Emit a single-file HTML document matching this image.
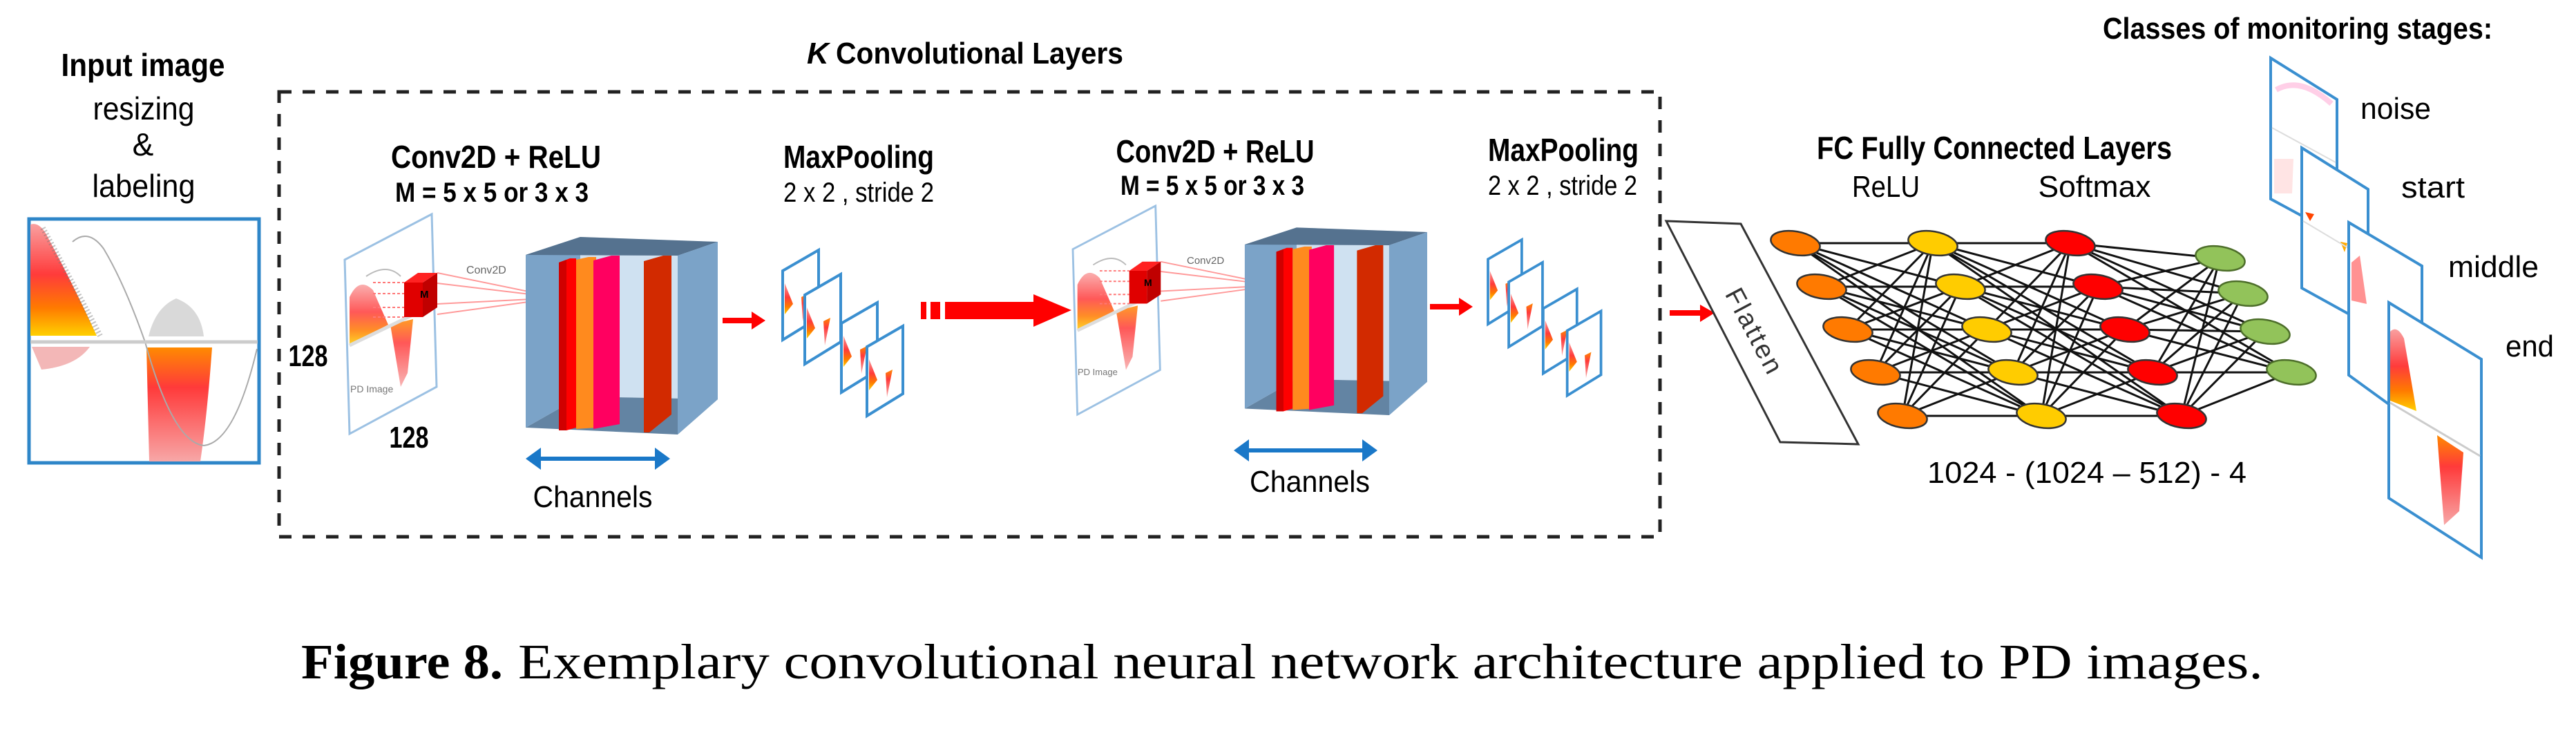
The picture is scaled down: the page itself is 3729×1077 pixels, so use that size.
<!DOCTYPE html>
<html><head><meta charset="utf-8"><style>
html,body{margin:0;padding:0;background:#fff;}
svg{display:block;}
.c{font-family:"Liberation Sans",sans-serif;}
</style></head><body>
<svg width="3729" height="1077" viewBox="0 0 3729 1077" xmlns="http://www.w3.org/2000/svg">
<defs>
<linearGradient id="gTop" x1="0" y1="0" x2="0" y2="1">
<stop offset="0" stop-color="#f9a0a0"/><stop offset="0.45" stop-color="#ff3b3b"/><stop offset="0.75" stop-color="#ff7a00"/><stop offset="1" stop-color="#ffd000"/></linearGradient>
<linearGradient id="gBot" x1="0" y1="0" x2="0" y2="1">
<stop offset="0" stop-color="#ff8a00"/><stop offset="0.35" stop-color="#ff3a3a"/><stop offset="1" stop-color="#f7a7a7"/></linearGradient>
<g id="conv">
<polygon points="499,376 625,310 632,560 506,628" fill="#fff" stroke="#9cc1e3" stroke-width="3"/>
<path d="M506,430 Q520,400 540,420 L562,470 L506,500 Z" fill="url(#gTop)" opacity="0.85"/>
<path d="M565,470 L598,462 L590,540 L580,560 Z" fill="url(#gBot)" opacity="0.85"/>
<line x1="506" y1="500" x2="620" y2="445" stroke="#ddd" stroke-width="5"/>
<path d="M530,400 Q560,380 580,400" fill="none" stroke="#bbb" stroke-width="2"/>
<g stroke="#f77" stroke-width="2" stroke-dasharray="4,3"><line x1="540" y1="409" x2="585" y2="409"/><line x1="540" y1="425" x2="585" y2="425"/><line x1="540" y1="445" x2="585" y2="445"/><line x1="540" y1="459" x2="585" y2="459"/></g>
<g stroke="#f99" stroke-width="2"><line x1="633" y1="395" x2="809" y2="431"/><line x1="633" y1="410" x2="809" y2="431"/><line x1="633" y1="440" x2="809" y2="431"/><line x1="633" y1="455" x2="809" y2="431"/></g>
<polygon points="585,409 612,409 612,459 585,459" fill="#e00000"/>
<polygon points="612,409 633,395 633,445 612,459" fill="#c00000"/>
<polygon points="585,409 605,395 633,395 612,409" fill="#f22"/>
<polygon points="840,343 1039,350 1039,578 840,574" fill="#cfe1f1"/>
<polygon points="761,619 981,629 1039,578 840,574" fill="#6384a3"/>
<polygon points="761,369 840,343 840,574 761,619" fill="#7ba3c8"/>
<polygon points="761,369 840,343 1039,350 981,370" fill="#55728f"/>
<polygon points="981,370 1039,350 1039,578 981,629" fill="#7ba3c8"/>
<polygon points="809,380 825,374 834,374 834,619 820,623 809,623" fill="#ff0000"/>
<polygon points="809,380 820,376 820,623 809,623" fill="#d00000"/>
<polygon points="834,376 852,372 863,372 863,619 834,621" fill="#ff8a1e"/>
<polygon points="859,377 885,370 897,370 897,614 859,621" fill="#ff0060"/>
<polygon points="932,378 960,370 972,370 972,600 940,626 932,626" fill="#d22a00"/>
</g>
<g id="pool">
<polygon points="1133,392 1185,362 1185,460 1133,492" fill="#fff" stroke="#3a8fd0" stroke-width="4"/>
<path d="M1136,410 L1148,440 L1136,455 Z" fill="url(#gTop)"/>
<path d="M1160,430 L1170,425 L1162,465 Z" fill="url(#gBot)"/>
</g>
</defs>

<text x="207" y="110" class="c" font-size="46" font-weight="bold" text-anchor="middle" textLength="237" lengthAdjust="spacingAndGlyphs">Input image</text>
<text x="208" y="173" class="c" font-size="46" text-anchor="middle" textLength="147" lengthAdjust="spacingAndGlyphs">resizing</text>
<text x="207" y="225" class="c" font-size="46" text-anchor="middle">&amp;</text>
<text x="208" y="285" class="c" font-size="46" text-anchor="middle" textLength="149" lengthAdjust="spacingAndGlyphs">labeling</text>
<rect x="42" y="317" width="333" height="353" fill="#fff" stroke="#2e86c8" stroke-width="5"/>
<path d="M44,325 Q58,320 70,345 Q110,420 140,486 L44,486 Z" fill="url(#gTop)"/>
<path d="M62,330 Q100,400 145,486" fill="none" stroke="#777" stroke-width="8" opacity="0.45" stroke-dasharray="2,3"/>
<path d="M215,487 Q225,445 255,432 Q290,445 295,487 Z" fill="#aaa" opacity="0.45"/>
<path d="M46,502 L130,502 Q110,530 60,535 Z" fill="#e99" opacity="0.7"/>
<path d="M212,503 L307,503 Q300,600 290,668 L216,668 Z" fill="url(#gBot)"/>
<path d="M105,350 Q128,330 150,360 Q180,410 210,495 Q250,640 295,645 Q340,640 372,505" fill="none" stroke="#aaa" stroke-width="2"/>
<line x1="44" y1="495" x2="373" y2="495" stroke="#ccc" stroke-width="5"/>

<text x="1168" y="92" class="c" font-size="44" font-weight="bold" font-style="italic">K</text>
<text x="1210" y="92" class="c" font-size="44" font-weight="bold" textLength="416" lengthAdjust="spacingAndGlyphs">Convolutional Layers</text>
<rect x="404" y="133" width="1999" height="644" fill="none" stroke="#222" stroke-width="5" stroke-dasharray="18,16"/>

<text x="718" y="243" class="c" font-size="46" font-weight="bold" text-anchor="middle" textLength="304" lengthAdjust="spacingAndGlyphs">Conv2D + ReLU</text>
<text x="712" y="292" class="c" font-size="40" font-weight="bold" text-anchor="middle" textLength="280" lengthAdjust="spacingAndGlyphs">M = 5 x 5 or 3 x 3</text>
<use href="#conv"/>
<text x="675" y="396" class="c" font-size="16" fill="#666">Conv2D</text>
<text x="608" y="431" class="c" font-size="15" font-weight="bold">M</text>
<text x="507" y="568" class="c" font-size="14" fill="#777">PD Image</text>
<text x="446" y="530" class="c" font-size="44" font-weight="bold" text-anchor="middle" textLength="57" lengthAdjust="spacingAndGlyphs">128</text>
<text x="592" y="648" class="c" font-size="44" font-weight="bold" text-anchor="middle" textLength="57" lengthAdjust="spacingAndGlyphs">128</text>
<line x1="775" y1="664" x2="955" y2="664" stroke="#1a78c8" stroke-width="6"/>
<polygon points="761,664 783,648 783,680" fill="#1a78c8"/><polygon points="970,664 948,648 948,680" fill="#1a78c8"/>
<text x="858" y="734" class="c" font-size="44" text-anchor="middle" textLength="173" lengthAdjust="spacingAndGlyphs">Channels</text>
<line x1="1046" y1="464" x2="1090" y2="464" stroke="#f00" stroke-width="8"/><polygon points="1108,464 1088,451 1088,477" fill="#f00"/>

<text x="1243" y="243" class="c" font-size="46" font-weight="bold" text-anchor="middle" textLength="218" lengthAdjust="spacingAndGlyphs">MaxPooling</text>
<text x="1243" y="292" class="c" font-size="40" text-anchor="middle" textLength="218" lengthAdjust="spacingAndGlyphs">2 x 2 , stride 2</text>
<use href="#pool"/>
<use href="#pool" transform="translate(32,35)"/>
<use href="#pool" transform="translate(85,76)"/>
<use href="#pool" transform="translate(122,110)"/>

<rect x="1333" y="437" width="8" height="25" fill="#f00"/><rect x="1347" y="437" width="14" height="25" fill="#f00"/>
<rect x="1368" y="437" width="132" height="25" fill="#f00"/><polygon points="1496,426 1551,449 1496,473" fill="#f00"/>

<text x="1759" y="235" class="c" font-size="46" font-weight="bold" text-anchor="middle" textLength="287" lengthAdjust="spacingAndGlyphs">Conv2D + ReLU</text>
<text x="1755" y="282" class="c" font-size="40" font-weight="bold" text-anchor="middle" textLength="266" lengthAdjust="spacingAndGlyphs">M = 5 x 5 or 3 x 3</text>
<use href="#conv" transform="translate(1553,298) scale(0.95) translate(-499,-310)"/>
<text x="1718" y="382" class="c" font-size="15" fill="#666">Conv2D</text>
<text x="1656" y="414" class="c" font-size="14" font-weight="bold">M</text>
<text x="1560" y="543" class="c" font-size="13" fill="#777">PD Image</text>
<line x1="1800" y1="652" x2="1980" y2="652" stroke="#1a78c8" stroke-width="6"/>
<polygon points="1786,652 1808,636 1808,668" fill="#1a78c8"/><polygon points="1994,652 1972,636 1972,668" fill="#1a78c8"/>
<text x="1896" y="712" class="c" font-size="44" text-anchor="middle" textLength="174" lengthAdjust="spacingAndGlyphs">Channels</text>
<line x1="2070" y1="444" x2="2114" y2="444" stroke="#f00" stroke-width="8"/><polygon points="2132,444 2112,431 2112,457" fill="#f00"/>

<text x="2263" y="233" class="c" font-size="46" font-weight="bold" text-anchor="middle" textLength="218" lengthAdjust="spacingAndGlyphs">MaxPooling</text>
<text x="2262" y="282" class="c" font-size="40" text-anchor="middle" textLength="216" lengthAdjust="spacingAndGlyphs">2 x 2 , stride 2</text>
<g transform="translate(2154,347) scale(0.94) translate(-1133,-362)">
<use href="#pool"/>
<use href="#pool" transform="translate(32,35)"/>
<use href="#pool" transform="translate(85,76)"/>
<use href="#pool" transform="translate(122,110)"/>
</g>

<line x1="2417" y1="453" x2="2462" y2="453" stroke="#f00" stroke-width="8"/><polygon points="2482,453 2461,441 2461,466" fill="#f00"/>
<polygon points="2412,320 2520,324 2690,643 2577,640" fill="#fff" stroke="#333" stroke-width="3"/>
<text x="2540" y="480" class="c" font-size="38" text-anchor="middle" transform="rotate(62 2540 480)" dy="13" letter-spacing="3" fill="#333">Flatten</text>

<text x="2887" y="230" class="c" font-size="46" font-weight="bold" text-anchor="middle" textLength="514" lengthAdjust="spacingAndGlyphs">FC Fully Connected Layers</text>
<text x="2730" y="285" class="c" font-size="44" text-anchor="middle" textLength="98" lengthAdjust="spacingAndGlyphs">ReLU</text>
<text x="3032" y="285" class="c" font-size="44" text-anchor="middle" textLength="163" lengthAdjust="spacingAndGlyphs">Softmax</text>
<g stroke="#111" stroke-width="3" fill="none">
<path d="M2599 352L2798 352M2599 352L2838 415M2599 352L2876 477M2599 352L2914 539M2599 352L2955 602M2637 415L2798 352M2637 415L2838 415M2637 415L2876 477M2637 415L2914 539M2637 415L2955 602M2675 477L2798 352M2675 477L2838 415M2675 477L2876 477M2675 477L2914 539M2675 477L2955 602M2715 539L2798 352M2715 539L2838 415M2715 539L2876 477M2715 539L2914 539M2715 539L2955 602M2754 602L2798 352M2754 602L2838 415M2754 602L2876 477M2754 602L2914 539M2754 602L2955 602"/>
<path d="M2798 352L2997 352M2798 352L3037 415M2798 352L3076 477M2798 352L3116 539M2798 352L3158 602M2838 415L2997 352M2838 415L3037 415M2838 415L3076 477M2838 415L3116 539M2838 415L3158 602M2876 477L2997 352M2876 477L3037 415M2876 477L3076 477M2876 477L3116 539M2876 477L3158 602M2914 539L2997 352M2914 539L3037 415M2914 539L3076 477M2914 539L3116 539M2914 539L3158 602M2955 602L2997 352M2955 602L3037 415M2955 602L3076 477M2955 602L3116 539M2955 602L3158 602"/>
<path d="M2997 352L3213 374M2997 352L3247 425M2997 352L3279 480M2997 352L3317 539M3037 415L3213 374M3037 415L3247 425M3037 415L3279 480M3037 415L3317 539M3076 477L3213 374M3076 477L3247 425M3076 477L3279 480M3076 477L3317 539M3116 539L3213 374M3116 539L3247 425M3116 539L3279 480M3116 539L3317 539M3158 602L3213 374M3158 602L3247 425M3158 602L3279 480M3158 602L3317 539"/>
</g>
<g stroke="#333" stroke-width="2.5">
<g fill="#ff7a00"><ellipse cx="2599" cy="352" rx="36" ry="17" transform="rotate(10 2599 352)"/><ellipse cx="2637" cy="415" rx="36" ry="17" transform="rotate(10 2637 415)"/><ellipse cx="2675" cy="477" rx="36" ry="17" transform="rotate(10 2675 477)"/><ellipse cx="2715" cy="539" rx="36" ry="17" transform="rotate(10 2715 539)"/><ellipse cx="2754" cy="602" rx="36" ry="17" transform="rotate(10 2754 602)"/></g>
<g fill="#ffcc00"><ellipse cx="2798" cy="352" rx="36" ry="17" transform="rotate(10 2798 352)"/><ellipse cx="2838" cy="415" rx="36" ry="17" transform="rotate(10 2838 415)"/><ellipse cx="2876" cy="477" rx="36" ry="17" transform="rotate(10 2876 477)"/><ellipse cx="2914" cy="539" rx="36" ry="17" transform="rotate(10 2914 539)"/><ellipse cx="2955" cy="602" rx="36" ry="17" transform="rotate(10 2955 602)"/></g>
<g fill="#ff0000"><ellipse cx="2997" cy="352" rx="36" ry="17" transform="rotate(10 2997 352)"/><ellipse cx="3037" cy="415" rx="36" ry="17" transform="rotate(10 3037 415)"/><ellipse cx="3076" cy="477" rx="36" ry="17" transform="rotate(10 3076 477)"/><ellipse cx="3116" cy="539" rx="36" ry="17" transform="rotate(10 3116 539)"/><ellipse cx="3158" cy="602" rx="36" ry="17" transform="rotate(10 3158 602)"/></g>
<g fill="#92c35a" stroke="#4d6e2a"><ellipse cx="3214" cy="374" rx="36" ry="17" transform="rotate(10 3214 374)"/><ellipse cx="3247" cy="425" rx="36" ry="17" transform="rotate(10 3247 425)"/><ellipse cx="3279" cy="480" rx="36" ry="17" transform="rotate(10 3279 480)"/><ellipse cx="3317" cy="539" rx="36" ry="17" transform="rotate(10 3317 539)"/></g>
</g>
<text x="2790" y="699" class="c" font-size="44" textLength="462" lengthAdjust="spacingAndGlyphs">1024  -  (1024 – 512) - 4</text>

<text x="3044" y="56" class="c" font-size="44" font-weight="bold" textLength="564" lengthAdjust="spacingAndGlyphs">Classes of monitoring stages:</text>
<polygon points="3287,84 3383,144 3383,340 3287,288" fill="#fff" stroke="#3a8fd0" stroke-width="4"/>
<path d="M3295,130 Q3330,110 3375,150" fill="none" stroke="#fbd" stroke-width="8" opacity="0.7"/>
<path d="M3292,230 L3320,230 L3318,280 L3292,280 Z" fill="#fdd" opacity="0.8"/>
<line x1="3289" y1="185" x2="3381" y2="235" stroke="#ddd" stroke-width="2"/>
<polygon points="3332,214 3428,274 3428,470 3332,417" fill="#fff" stroke="#3a8fd0" stroke-width="4"/>
<path d="M3337,307 L3350,310 L3344,320 Z" fill="#f40"/><path d="M3388,350 L3398,352 L3394,365 Z" fill="#fa0"/>
<line x1="3334" y1="320" x2="3426" y2="375" stroke="#ddd" stroke-width="2"/>
<polygon points="3400,322 3506,385 3506,620 3400,543" fill="#fff" stroke="#3a8fd0" stroke-width="4"/>
<path d="M3404,380 L3416,370 L3426,440 L3404,435 Z" fill="#f77" opacity="0.8"/>
<polygon points="3458,438 3592,520 3592,807 3458,721" fill="#fff" stroke="#3a8fd0" stroke-width="4"/>
<path d="M3460,480 Q3470,470 3480,490 L3498,595 L3460,580 Z" fill="url(#gTop)"/>
<path d="M3528,630 L3566,655 L3560,740 L3538,760 Z" fill="url(#gBot)"/>
<line x1="3460" y1="583" x2="3590" y2="660" stroke="#ccc" stroke-width="3"/>
<text x="3417" y="172" class="c" font-size="44" textLength="102" lengthAdjust="spacingAndGlyphs">noise</text>
<text x="3476" y="286" class="c" font-size="44" textLength="92" lengthAdjust="spacingAndGlyphs">start</text>
<text x="3544" y="401" class="c" font-size="44" textLength="131" lengthAdjust="spacingAndGlyphs">middle</text>
<text x="3627" y="516" class="c" font-size="44" textLength="70" lengthAdjust="spacingAndGlyphs">end</text>

<text x="436" y="982" font-family="'Liberation Serif',serif" font-size="72" font-weight="bold" textLength="292" lengthAdjust="spacingAndGlyphs">Figure 8.</text>
<text x="750" y="982" font-family="'Liberation Serif',serif" font-size="72" textLength="2526" lengthAdjust="spacingAndGlyphs">Exemplary convolutional neural network architecture applied to PD images.</text>
</svg>
</body></html>
